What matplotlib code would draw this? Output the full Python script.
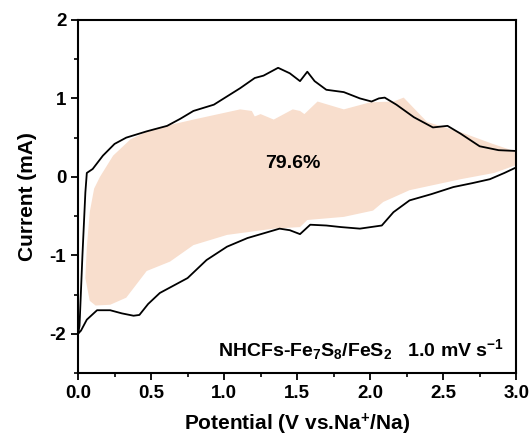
import matplotlib.pyplot as plt
from matplotlib.ticker import MultipleLocator

plt.rcParams['font.family'] = ['Liberation Sans', 'DejaVu Sans']
plt.rcParams['font.weight'] = 'bold'
plt.rcParams['axes.unicode_minus'] = False
plt.rcParams['mathtext.fontset'] = 'custom'
plt.rcParams['mathtext.rm'] = 'Liberation Sans:bold'
plt.rcParams['mathtext.default'] = 'rm'

# CV loop at 1.0 mV/s: anodic branch (0 -> 3 V), then cathodic branch (3 -> 0 V)
cv_x = [0.0, 0.01, 0.03, 0.05, 0.06, 0.1, 0.17, 0.25, 0.33, 0.47, 0.61, 0.70, 0.79, 0.93,
        1.11, 1.21, 1.27, 1.32, 1.37, 1.45, 1.52, 1.57, 1.62, 1.70, 1.82, 1.93, 2.01,
        2.06, 2.10, 2.18, 2.30, 2.43, 2.53, 2.62, 2.75, 2.88, 3.0,
        3.0, 2.92, 2.82, 2.70, 2.57, 2.42, 2.27, 2.16, 2.08, 1.93, 1.80, 1.70, 1.59, 1.52,
        1.45, 1.38, 1.16, 1.02, 0.88, 0.75, 0.66, 0.56, 0.48, 0.42, 0.38, 0.30, 0.22,
        0.13, 0.06, 0.02, 0.0]
cv_y = [-2.0, -1.9, -1.0, -0.2, 0.05, 0.1, 0.27, 0.42, 0.5, 0.58, 0.65, 0.74, 0.84, 0.92,
        1.13, 1.26, 1.29, 1.34, 1.39, 1.32, 1.22, 1.34, 1.22, 1.11, 1.08, 1.0, 0.96,
        1.0, 1.01, 0.92, 0.76, 0.63, 0.65, 0.55, 0.39, 0.34, 0.33,
        0.12, 0.05, -0.03, -0.08, -0.13, -0.22, -0.3, -0.45, -0.62, -0.66, -0.64, -0.62,
        -0.61, -0.73, -0.68, -0.66, -0.78, -0.89, -1.06, -1.29, -1.38, -1.48, -1.62,
        -1.76, -1.77, -1.74, -1.70, -1.70, -1.82, -1.96, -2.0]

# retained area (79.6 %) boundary
fill_x = [0.15, 0.17, 0.24, 0.36, 0.51, 0.79, 1.11, 1.19, 1.21, 1.25, 1.34, 1.47, 1.52,
          1.55, 1.64, 1.82, 2.0, 2.16, 2.23, 2.39, 2.62, 2.84, 3.0,
          3.0, 2.85, 2.62, 2.27, 2.09, 2.02, 1.82, 1.57, 1.52, 1.34, 1.02, 0.79, 0.63,
          0.47, 0.33, 0.22, 0.12, 0.08, 0.05, 0.06, 0.08, 0.11]
fill_y = [0.0, 0.06, 0.27, 0.48, 0.61, 0.73, 0.86, 0.84, 0.77, 0.80, 0.73, 0.86, 0.84,
          0.80, 0.96, 0.86, 0.95, 0.96, 1.01, 0.70, 0.57, 0.42, 0.32,
          0.15, 0.05, -0.03, -0.17, -0.32, -0.43, -0.51, -0.55, -0.64, -0.66, -0.74,
          -0.87, -1.08, -1.2, -1.54, -1.63, -1.64, -1.58, -1.29, -0.9, -0.45, -0.15]

x_ticks = [0.0, 0.5, 1.0, 1.5, 2.0, 2.5, 3.0]
y_ticks = [-2, -1, 0, 1, 2]

fig = plt.figure(figsize=(5.31, 4.43), dpi=100)
ax = fig.add_axes([0.147, 0.158, 0.825, 0.797])

ax.fill(fill_x, fill_y, color='#F8DECD', lw=0)
ax.plot(cv_x, cv_y, color='black', lw=1.3)

ax.set_xlim(0, 3.0)
ax.set_ylim(-2.5, 2)
ax.set_xticks(x_ticks)
ax.set_xticklabels(['%.1f' % v for v in x_ticks])
ax.set_yticks(y_ticks)
ax.set_yticklabels([str(v) for v in y_ticks])
ax.xaxis.set_minor_locator(MultipleLocator(0.25))
ax.yaxis.set_minor_locator(MultipleLocator(0.5))
ax.tick_params(which='major', direction='out', length=5, width=1.3, labelsize=13.5)
ax.tick_params(which='minor', direction='out', length=3, width=1.2)
for s in ax.spines.values():
    s.set_linewidth(1.5)

ax.set_xlabel('Potential (V vs.Na$^{+}$/Na)', fontsize=15, fontweight='bold', labelpad=7)
ax.set_ylabel('Current (mA)', fontsize=15, fontweight='bold', labelpad=9)

ax.text(1.47, 0.17, '79.6%', fontsize=14, fontweight='bold', ha='center', va='center')
ax.text(2.92, -2.2, 'NHCFs-Fe$_7$S$_8$/FeS$_2$   1.0 mV s$^{-1}$', fontsize=14,
        fontweight='bold', ha='right', va='center')

fig.savefig('out.png', dpi=100)
